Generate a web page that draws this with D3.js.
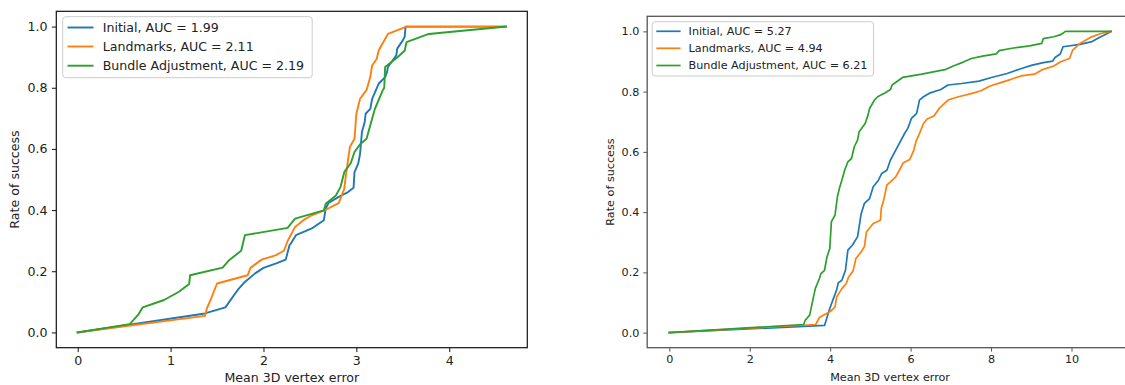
<!DOCTYPE html>
<html>
<head>
<meta charset="utf-8">
<script src="https://cdn.jsdelivr.net/npm/d3@7"></script>
<style>
  html, body { margin: 0; padding: 0; background: #fff; overflow: hidden; }
  svg { display: block; }
  text { font-family: "DejaVu Sans", sans-serif; fill: #222; }
</style>
</head>
<body>
<svg id="chart" width="1125" height="385"></svg>
<script>
// ---------------- DATA ----------------
const seriesNames = ["Initial", "Landmarks", "Bundle Adjustment"];
const leftAUC = ["1.99", "2.11", "2.19"];
const rightAUC = ["5.27", "4.94", "6.21"];
const leftXTicks = [0, 1, 2, 3, 4];
const rightXTicks = [0, 2, 4, 6, 8, 10];
const yTicks = [0.0, 0.2, 0.4, 0.6, 0.8, 1.0];
const xLabel = "Mean 3D vertex error";
const yLabel = "Rate of success";

// Left panel curves [error, rate]
const leftInitial = [[0,0],[1.37,0.062],[1.59,0.082],[1.72,0.138],[1.80,0.165],[1.91,0.193],[2.0,0.211],[2.13,0.225],[2.24,0.238],[2.28,0.285],[2.30,0.293],[2.35,0.318],[2.52,0.34],[2.65,0.367],[2.67,0.405],[2.70,0.423],[2.81,0.443],[2.91,0.459],[2.97,0.473],[2.98,0.524],[3.02,0.552],[3.04,0.584],[3.06,0.655],[3.09,0.688],[3.10,0.715],[3.15,0.731],[3.17,0.764],[3.24,0.813],[3.31,0.835],[3.33,0.851],[3.34,0.868],[3.43,0.906],[3.44,0.928],[3.50,0.955],[3.52,0.966],[3.53,1.0],[4.61,1.0]];
const leftLandmarks = [[0,0],[1.37,0.054],[1.39,0.078],[1.43,0.106],[1.50,0.16],[1.83,0.187],[1.86,0.211],[1.98,0.238],[2.13,0.252],[2.22,0.267],[2.26,0.299],[2.34,0.345],[2.43,0.367],[2.52,0.383],[2.67,0.401],[2.81,0.423],[2.87,0.47],[2.89,0.519],[2.93,0.606],[2.98,0.633],[3.0,0.715],[3.04,0.764],[3.11,0.793],[3.15,0.835],[3.17,0.873],[3.22,0.895],[3.24,0.922],[3.29,0.949],[3.34,0.976],[3.54,1.0],[4.61,1.0]];
const leftBundle = [[0,0],[0.56,0.027],[0.65,0.057],[0.70,0.082],[0.93,0.106],[1.09,0.133],[1.20,0.158],[1.21,0.187],[1.56,0.212],[1.63,0.236],[1.76,0.267],[1.80,0.318],[2.26,0.342],[2.34,0.372],[2.65,0.399],[2.67,0.421],[2.78,0.448],[2.83,0.476],[2.87,0.524],[2.94,0.554],[2.98,0.59],[3.04,0.615],[3.11,0.633],[3.15,0.677],[3.20,0.731],[3.28,0.789],[3.30,0.80],[3.31,0.868],[3.44,0.899],[3.52,0.921],[3.54,0.949],[3.78,0.976],[4.61,1.0]];

// Right panel curves [error, rate]
const rightInitial = [[0,0],[3.86,0.024],[3.99,0.08],[4.08,0.113],[4.16,0.141],[4.20,0.165],[4.29,0.174],[4.38,0.207],[4.44,0.274],[4.55,0.29],[4.68,0.318],[4.72,0.351],[4.77,0.395],[4.85,0.429],[4.98,0.445],[5.07,0.484],[5.20,0.506],[5.28,0.528],[5.41,0.539],[5.50,0.573],[5.63,0.606],[5.72,0.628],[5.85,0.661],[5.93,0.678],[6.02,0.711],[6.15,0.728],[6.22,0.772],[6.32,0.783],[6.49,0.796],[6.75,0.807],[6.93,0.822],[7.27,0.827],[7.70,0.835],[8.01,0.847],[8.40,0.86],[8.74,0.876],[9.0,0.887],[9.30,0.896],[9.53,0.901],[9.59,0.913],[9.72,0.925],[9.79,0.949],[10.21,0.957],[10.51,0.966],[10.68,0.979],[10.98,0.999]];
const rightLandmarks = [[0,0],[3.64,0.027],[3.73,0.05],[3.99,0.069],[4.12,0.085],[4.16,0.118],[4.29,0.146],[4.40,0.163],[4.46,0.185],[4.57,0.205],[4.64,0.246],[4.77,0.268],[4.85,0.285],[4.90,0.334],[5.07,0.362],[5.25,0.373],[5.27,0.412],[5.33,0.44],[5.41,0.49],[5.63,0.517],[5.72,0.539],[5.82,0.564],[5.98,0.575],[6.08,0.606],[6.13,0.633],[6.24,0.667],[6.32,0.694],[6.41,0.709],[6.58,0.719],[6.71,0.744],[6.93,0.772],[7.19,0.783],[7.53,0.794],[7.75,0.803],[7.96,0.818],[8.22,0.829],[8.48,0.84],[8.74,0.852],[9.08,0.858],[9.26,0.872],[9.56,0.885],[9.73,0.899],[9.95,0.91],[10.03,0.938],[10.21,0.96],[10.47,0.98],[10.73,0.993],[10.98,1.0]];
const rightBundle = [[0,0],[3.34,0.027],[3.38,0.041],[3.49,0.058],[3.56,0.102],[3.63,0.146],[3.73,0.179],[3.77,0.196],[3.86,0.207],[3.92,0.251],[3.99,0.279],[4.03,0.368],[4.12,0.39],[4.18,0.451],[4.23,0.479],[4.29,0.506],[4.36,0.539],[4.44,0.567],[4.53,0.578],[4.60,0.617],[4.68,0.639],[4.72,0.667],[4.87,0.694],[4.94,0.722],[4.98,0.744],[5.10,0.772],[5.18,0.783],[5.37,0.796],[5.50,0.807],[5.54,0.822],[5.80,0.847],[6.28,0.858],[6.88,0.874],[7.06,0.885],[7.31,0.898],[7.51,0.91],[7.79,0.918],[8.13,0.925],[8.20,0.936],[8.52,0.944],[8.96,0.952],[9.26,0.96],[9.30,0.976],[9.56,0.982],[9.73,0.989],[9.85,1.0],[10.98,1.0]];

const colors = ["#1f77b4", "#ff7f0e", "#2ca02c"];

// ---------------- DRAW ----------------
const svg = d3.select("#chart");

function drawPanel(cfg) {
  const g = svg.append("g");
  const fs = cfg.fontSize;
  const all = cfg.series.flat();
  const xMax = d3.max(all, d => d[0]);
  const xMin = d3.min(all, d => d[0]);
  const pad = (xMax - xMin) * 0.05;
  const x = d3.scaleLinear().domain([xMin - pad, xMax + pad]).range([cfg.left, cfg.right]);
  const y = d3.scaleLinear().domain([-0.05, 1.05]).range([cfg.bottom, cfg.top]);

  // lines
  const line = d3.line().x(d => x(d[0])).y(d => y(d[1]));
  cfg.series.forEach((s, i) => {
    g.append("path").datum(s).attr("d", line)
      .attr("fill", "none").attr("stroke", colors[i])
      .attr("stroke-width", cfg.lw).attr("stroke-linejoin", "round").attr("stroke-linecap", "square");
  });

  // axes
  const xAxis = d3.axisBottom(x).tickValues(cfg.xTicks).tickFormat(d3.format("d"))
    .tickSize(cfg.tick).tickPadding(cfg.tickPad);
  const yAxis = d3.axisLeft(y).tickValues(yTicks).tickFormat(d3.format(".1f"))
    .tickSize(cfg.tick).tickPadding(cfg.tickPad);
  const gx = g.append("g").attr("transform", `translate(0,${cfg.bottom})`).call(xAxis);
  const gy = g.append("g").attr("transform", `translate(${cfg.left},0)`).call(yAxis);
  [gx, gy].forEach(a => {
    a.select(".domain").remove();
    a.selectAll(".tick line").attr("stroke", cfg.frame).attr("stroke-width", 1);
    a.selectAll(".tick text").attr("font-size", fs).attr("font-family", "DejaVu Sans").style("fill", "#222");
  });

  // frame
  g.append("rect").attr("x", cfg.left).attr("y", cfg.top)
    .attr("width", cfg.right - cfg.left).attr("height", cfg.bottom - cfg.top)
    .attr("fill", "none").attr("stroke", cfg.frame).attr("stroke-width", cfg.frameW);

  // axis labels
  g.append("text").attr("x", (cfg.left + cfg.right) / 2).attr("y", cfg.xLabelY)
    .attr("text-anchor", "middle").attr("font-size", fs).text(xLabel);
  g.append("text").attr("transform", `translate(${cfg.yLabelX},${(cfg.top + cfg.bottom) / 2}) rotate(-90)`)
    .attr("text-anchor", "middle").attr("font-size", fs).text(yLabel);

  // legend
  const L = cfg.legend;
  const lg = g.append("g");
  lg.append("rect").attr("x", L.x).attr("y", L.y).attr("width", L.w).attr("height", L.h)
    .attr("rx", 3).attr("ry", 3)
    .attr("fill", "#fff").attr("fill-opacity", 0.8).attr("stroke", "#cccccc").attr("stroke-width", 1);
  seriesNames.forEach((n, i) => {
    const yy = L.rows[i];
    lg.append("line").attr("x1", L.h1).attr("x2", L.h2).attr("y1", yy).attr("y2", yy)
      .attr("stroke", colors[i]).attr("stroke-width", cfg.lw);
    lg.append("text").attr("x", L.tx).attr("y", yy).attr("dy", "0.35em")
      .attr("font-size", fs).text(`${n}, AUC = ${cfg.auc[i]}`);
  });
}

drawPanel({
  left: 56.3, right: 527.3, top: 11.3, bottom: 347.7,
  fontSize: 12.6, lw: 1.9, tick: 4.4, tickPad: 4.4, frame: "#111", frameW: 1.2,
  xTicks: leftXTicks, auc: leftAUC,
  series: [leftInitial, leftLandmarks, leftBundle],
  xLabelY: 381.5, yLabelX: 18.5,
  legend: { x: 62.7, y: 16.7, w: 249.5, h: 61, h1: 67.5, h2: 93.5, tx: 102.7, rows: [27.5, 46.5, 65.7] }
});

drawPanel({
  left: 647.2, right: 1133, top: 16.3, bottom: 347.7,
  fontSize: 11.2, lw: 1.7, tick: 3.9, tickPad: 3.9, frame: "#555", frameW: 1.3,
  xTicks: rightXTicks, auc: rightAUC,
  series: [rightInitial, rightLandmarks, rightBundle],
  xLabelY: 380.5, yLabelX: 614,
  legend: { x: 652.2, y: 21.7, w: 221.4, h: 54.3, h1: 656.3, h2: 680.6, tx: 688.6, rows: [31.3, 48.3, 65.5] }
});
</script>
</body>
</html>
